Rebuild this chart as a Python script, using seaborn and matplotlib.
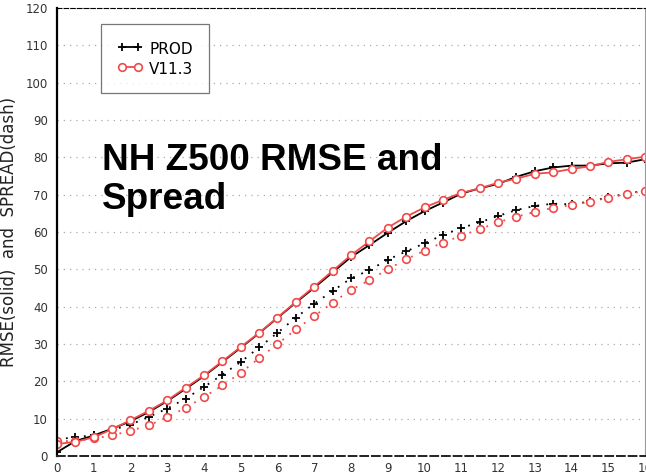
import numpy as np
import pandas as pd
import matplotlib
matplotlib.use('Agg')
import matplotlib.pyplot as plt
import seaborn as sns

# forecast day, every 12 h
days = [i * 0.5 for i in range(33)]

# RMSE (solid) and spread (dotted)
prod_rmse = [1.0, 4.0, 5.5, 7.3, 9.3, 11.8, 14.7, 18.0, 21.4, 25.2, 29.0, 32.9, 37.0,
             41.1, 45.1, 49.2, 53.3, 56.5, 59.8, 62.9, 65.6, 67.9, 70.3, 71.7, 72.9,
             74.8, 76.3, 77.3, 77.8, 77.8, 78.4, 78.6, 79.5]
v113_rmse = [3.2, 3.8, 5.0, 7.2, 9.6, 12.1, 14.9, 18.3, 21.6, 25.4, 29.2, 33.0, 37.1,
             41.3, 45.4, 49.6, 53.8, 57.5, 61.2, 64.1, 66.6, 68.6, 70.5, 71.7, 73.2,
             74.3, 75.6, 76.0, 76.9, 77.6, 78.8, 79.5, 80.2]
prod_spread = [4.5, 5.0, 5.6, 7.0, 8.4, 10.5, 12.7, 15.4, 18.5, 21.8, 25.2, 29.1, 33.0,
               37.1, 40.8, 44.2, 47.6, 49.8, 52.6, 54.8, 57.0, 59.2, 61.1, 62.6, 64.3,
               65.9, 67.0, 67.6, 67.4, 68.2, 69.3, 70.3, 71.1]
v113_spread = [4.0, 4.0, 4.7, 5.5, 6.8, 8.2, 10.4, 12.9, 15.8, 18.9, 22.3, 26.2, 30.0,
               33.9, 37.5, 41.1, 44.5, 47.1, 50.0, 52.7, 55.0, 57.2, 59.0, 60.8, 62.6,
               64.1, 65.4, 66.5, 67.2, 68.1, 69.2, 70.2, 71.0]

red = '#f04a4a'
plus_kw = dict(marker='+', markersize=6, markeredgewidth=1.3, markeredgecolor='black')
circ_kw = dict(marker='o', markersize=5.5, markerfacecolor='white',
               markeredgecolor=red, markeredgewidth=1.2)

sns.set_style('white')
plt.rcParams['font.family'] = ['DejaVu Sans']

fig = plt.figure(figsize=(6.46, 4.76), dpi=100)
ax = fig.add_axes([0.0882, 0.042, 0.9103, 0.941])

# spread (dotted)
sns.lineplot(x=days, y=prod_spread, ax=ax, color='black', linestyle=(0, (1, 4)),
             linewidth=1.3, **plus_kw)
sns.lineplot(x=days, y=v113_spread, ax=ax, color=red, linestyle=(0, (1, 4)),
             linewidth=1.3, **circ_kw)
# rmse (solid)
sns.lineplot(x=days, y=prod_rmse, ax=ax, color='black', linewidth=1.3,
             label='PROD', **plus_kw)
sns.lineplot(x=days, y=v113_rmse, ax=ax, color=red, linewidth=1.3,
             label='V11.3', **circ_kw)

ax.set_xlim(0, 16)
ax.set_ylim(0, 120)
ax.set_xticks(range(0, 17))
ax.set_yticks(range(0, 121, 10))
ax.tick_params(axis='both', labelsize=8.5, labelcolor='#333333', colors='#333333',
               length=3, width=0.8, direction='out')
ax.tick_params(axis='x', length=0, pad=4)
ax.yaxis.grid(True, linestyle=(0, (1, 4)), color='#aaaaaa', linewidth=0.9)
ax.xaxis.grid(False)

ax.spines['left'].set_linewidth(1.6)
ax.spines['left'].set_color('black')
ax.spines['top'].set_linestyle((0, (4, 2)))
ax.spines['top'].set_color('black')
ax.spines['bottom'].set_linestyle((0, (4, 2)))
ax.spines['bottom'].set_linewidth(1.4)
ax.spines['bottom'].set_color('#222222')
ax.spines['right'].set_color('#999999')
ax.spines['right'].set_linewidth(0.8)

ax.set_xlabel('')
ax.set_ylabel('RMSE(solid)  and  SPREAD(dash)', fontsize=12, color='#222222')
ax.yaxis.set_label_coords(-0.066, 0.5)

leg = ax.legend(loc='upper left', bbox_to_anchor=(0.0747, 0.964), borderaxespad=0,
                numpoints=2, fontsize=11, frameon=True, fancybox=False,
                handlelength=1.7, handleheight=1.4, handletextpad=0.4,
                borderpad=1.05, labelspacing=0.12)
leg.get_frame().set_edgecolor('#555555')
leg.get_frame().set_linewidth(0.9)
for t in leg.get_texts():
    t.set_color('black')

ax.text(0.077, 0.698, 'NH Z500 RMSE and\nSpread', transform=ax.transAxes,
        fontsize=26.6, fontweight='bold', family='Liberation Sans', va='top',
        ha='left', linespacing=1.14, color='black')

fig.savefig('out.png', dpi=100)
